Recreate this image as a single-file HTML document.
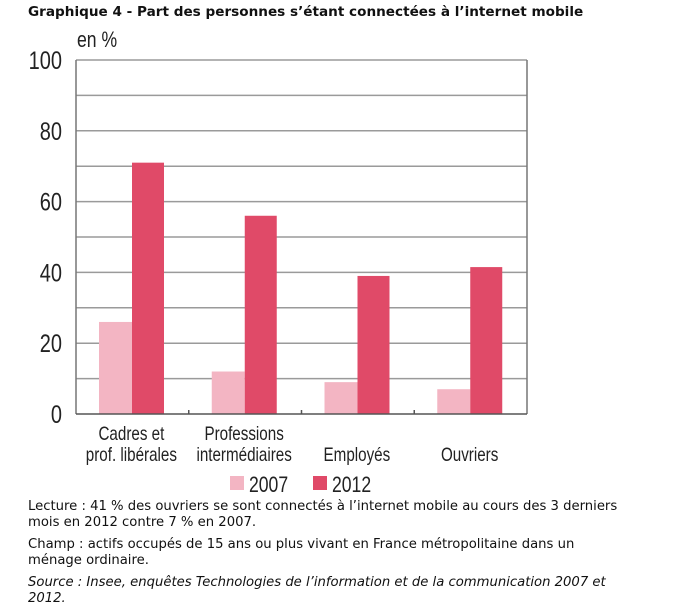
<!DOCTYPE html>
<html><head><meta charset="utf-8"><style>
body{margin:0;background:#fff;width:677px;height:613px;overflow:hidden;position:relative}
.t{position:absolute;left:28px;top:4px;font:bold 13.6px "DejaVu Sans",Verdana,sans-serif;white-space:nowrap;color:#111}
.n{position:absolute;left:28px;font:13.2px "DejaVu Sans",Verdana,sans-serif;white-space:nowrap;color:#111;line-height:15.5px}
svg{position:absolute;left:0;top:0}
.ax{font-family:"Liberation Sans",sans-serif;fill:#222}
</style></head><body>
<div class="t">Graphique 4 - Part des personnes s’étant connectées à l’internet mobile</div>
<svg id="c" width="677" height="500"></svg>
<div class="n" style="top:499px">Lecture : 41 % des ouvriers se sont connectés à l’internet mobile au cours des 3 derniers<br>mois en 2012 contre 7 % en 2007.</div>
<div class="n" style="top:537px">Champ : actifs occupés de 15 ans ou plus vivant en France métropolitaine dans un<br>ménage ordinaire.</div>
<div class="n" style="top:575px;font-style:italic">Source : Insee, enquêtes Technologies de l’information et de la communication 2007 et<br>2012.</div>
<script>
const categories=[["Cadres et","prof. libérales"],["Professions","intermédiaires"],["Employés"],["Ouvriers"]];
const values2007=[26,12,9,7];
const values2012=[71,56,39,41.5];
const yTicks=[0,20,40,60,80,100];
const gridLines=[10,20,30,40,50,60,70,80,90,100];
const L=76,R=527,T=60,B=414,NS="http://www.w3.org/2000/svg";
const svg=document.getElementById('c');
const y=v=>B-(v/100)*(B-T);
const gw=(R-L)/categories.length;
const gx=i=>L+i*gw;
function mk(tag,a,txt){const e=document.createElementNS(NS,tag);for(const k in a)e.setAttribute(k,a[k]);if(txt!=null)e.textContent=txt;svg.appendChild(e);return e;}
function ct(x,yy,size,anchor,txt){return mk('text',{x:0,y:0,transform:'translate('+x+','+yy+') scale(0.8,1)','text-anchor':anchor,'font-size':size,class:'ax'},txt);}
gridLines.forEach(v=>{const e=mk('line',{x1:L,x2:R,y1:y(v),y2:y(v),stroke:'#9a9a9a','stroke-width':1.5});

});
yTicks.forEach(v=>{const e=ct(62,y(v)+9,25,'end',v);

});
const u=ct(77,47,22,'start','en %');


categories.forEach((c,i)=>{
 const b1=mk('rect',{x:gx(i)+23,y:y(values2007[i]),width:33,height:B-y(values2007[i]),fill:'#f3b5c3'});
 
 
 const b2=mk('rect',{x:gx(i)+56,y:y(values2012[i]),width:32,height:B-y(values2012[i]),fill:'#e04a68'});
 
 
 const cx=gx(i)+gw/2-1;
 c.forEach((ln,j)=>{const t=ct(cx,(c.length==1?461:440+j*21),19,'middle',ln);
 
 });
 if(i>0)mk('line',{x1:gx(i),x2:gx(i),y1:B,y2:B-4,stroke:'#555','stroke-width':1.5});
});
mk('line',{x1:L,x2:L,y1:T,y2:B,stroke:'#777','stroke-width':1.5});
mk('line',{x1:R,x2:R,y1:T,y2:B,stroke:'#777','stroke-width':1.5});
mk('line',{x1:L,x2:R,y1:B,y2:B,stroke:'#555','stroke-width':1.5});
[['2007','#f3b5c3',230],['2012','#e04a68',313]].forEach(([l,col,x])=>{
 const s=mk('rect',{x:x,y:476,width:14,height:14,fill:col});
 
 
 const t=ct(x+19,492,22,'start',l);
 
 
});
</script>
</body></html>
